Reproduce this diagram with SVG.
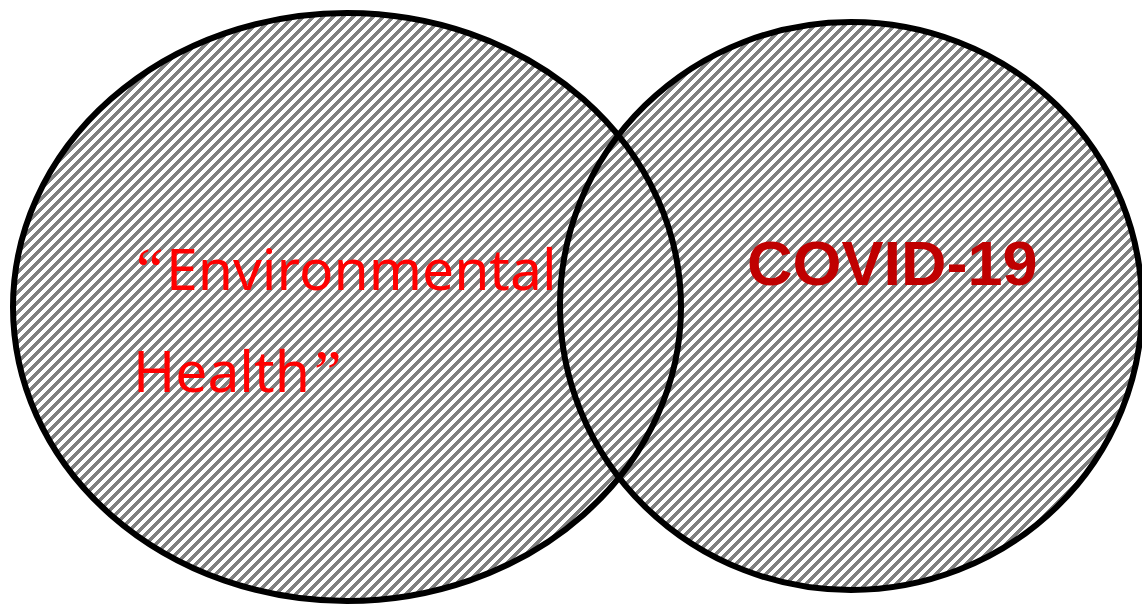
<svg xmlns="http://www.w3.org/2000/svg" width="1142" height="607" viewBox="0 0 1142 607">
<style>
.fill{fill:url(#hatch);stroke:none}
.ring{fill:none;stroke:#000;stroke-width:6}
.env{font-family:"Noto Sans","Open Sans",sans-serif;font-size:57px;fill:#FF0000}
.q{font-family:"Liberation Serif","Times New Roman",serif;font-size:62px}
.cov{font-family:"Liberation Sans",Arial,sans-serif;font-weight:bold;font-size:63px;fill:#C00000}
</style>
<defs>
<pattern id="hatch" patternUnits="userSpaceOnUse" width="10" height="10">
<path d="M-3,3 L3,-3 M0,10 L10,0 M7,13 L13,7" stroke="#808080" stroke-width="2.9" fill="none" shape-rendering="crispEdges"/>
</pattern>
</defs>
<rect width="1142" height="607" fill="#fff"/>
<g id="node-env">
<ellipse class="fill" cx="347" cy="307" rx="334" ry="294"/>
</g>
<g id="node-covid">
<ellipse class="fill" cx="851" cy="306" rx="291" ry="284"/>
</g>
<g id="node-env-outline">
<ellipse class="ring" cx="347" cy="307" rx="334" ry="294"/>
<text class="env" x="136" y="290"><tspan class="q">“</tspan><tspan x="166">Environmental</tspan></text>
<text class="env" x="133" y="392">Health<tspan class="q" dx="4">”</tspan></text>
</g>
<g id="node-covid-outline">
<ellipse class="ring" cx="851" cy="306" rx="291" ry="284"/>
<text class="cov" x="747" y="285">COVID-19</text>
</g>
<g id="connectors"/>
</svg>
